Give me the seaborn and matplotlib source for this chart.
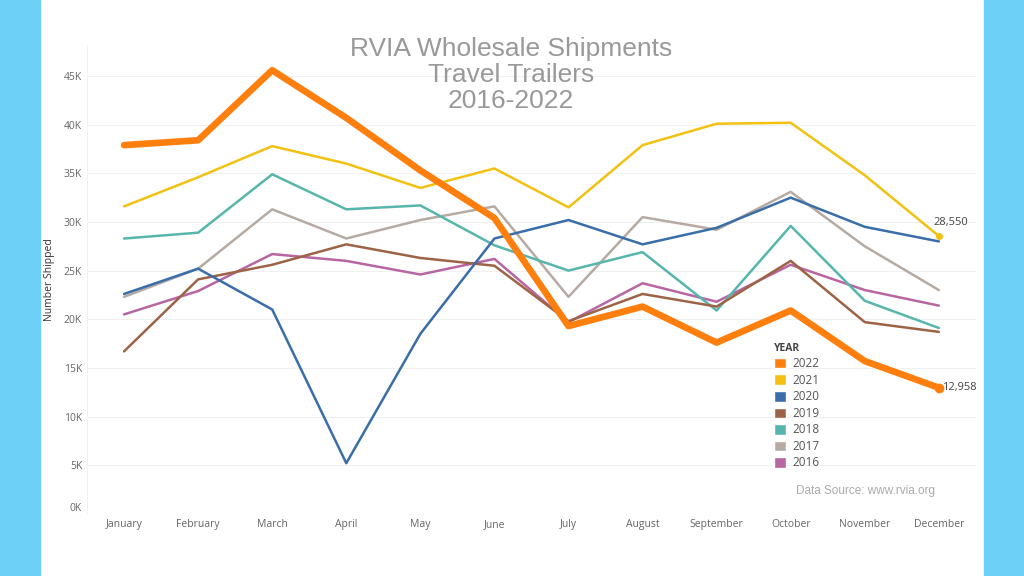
import pandas as pd
import seaborn as sns

import matplotlib
matplotlib.use('Agg')
import matplotlib.pyplot as plt
from matplotlib.patches import Patch, Rectangle


months = ["January", "February", "March", "April", "May", "June", "July",
          "August", "September", "October", "November", "December"]
years = ["2022", "2021", "2020", "2019", "2018", "2017", "2016"]

# monthly shipments
s2022 = [37900, 38400, 45600, 40700, 35300, 30400, 19300, 21300, 17600, 20900, 15700, 12958]
s2021 = [31600, 34600, 37800, 36000, 33500, 35500, 31500, 37900, 40100, 40200, 34800, 28550]
s2020 = [22600, 25200, 21000, 5200, 18500, 28300, 30200, 27700, 29400, 32500, 29500, 28000]
s2019 = [16700, 24100, 25600, 27700, 26300, 25500, 19800, 22600, 21300, 26000, 19700, 18700]
s2018 = [28300, 28900, 34900, 31300, 31700, 27600, 25000, 26900, 20900, 29600, 21900, 19100]
s2017 = [22300, 25200, 31300, 28300, 30200, 31600, 22300, 30500, 29200, 33100, 27500, 23000]
s2016 = [20500, 22900, 26700, 26000, 24600, 26200, 19700, 23700, 21800, 25600, 23000, 21400]
series = [s2022, s2021, s2020, s2019, s2018, s2017, s2016]

colors = {"2022": "#FF7F0E", "2021": "#F2C111", "2020": "#3A6EA8", "2019": "#9D6347",
          "2018": "#57B6AC", "2017": "#B7AAA3", "2016": "#B866A1"}
widths = {y: 1.8 for y in years}
widths["2022"] = 4.8

rows = []
for y, vals in zip(years, series):
    for i, v in enumerate(vals):
        rows.append({"Year": y, "MonthIdx": i, "Shipped": v})
df = pd.DataFrame(rows)

sns.set_style("white")
plt.rcParams['font.family'] = ['Open Sans', 'DejaVu Sans']

fig = plt.figure(figsize=(10.24, 5.76), dpi=100)
fig.patches.append(Rectangle((0, 0), 40 / 1024, 1, transform=fig.transFigure, color="#6DD0F7", zorder=-1))
fig.patches.append(Rectangle((984 / 1024, 0), 40 / 1024, 1, transform=fig.transFigure, color="#6DD0F7", zorder=-1))

ax = fig.add_axes([0.085, 0.108, 0.868, 0.814])
# draw older years first so 2022 sits on top
order = years[::-1]
sns.lineplot(data=df, x="MonthIdx", y="Shipped", hue="Year", hue_order=order,
             palette=colors, size="Year", sizes=widths, size_order=order,
             legend=False, ax=ax, solid_capstyle="round")

ax.set_xlim(-0.5, 11.5)
ax.set_ylim(0, 48200)
ax.set_xticks(range(12))
ax.set_xticklabels(months)
ax.set_yticks(range(0, 46000, 5000))
ax.set_yticklabels([f"{v // 1000}K" for v in range(0, 46000, 5000)])
ax.tick_params(axis="both", length=0, labelsize=7.5, labelcolor="#666666")
ax.tick_params(axis="x", pad=4)
ax.get_yticklabels()[0].set_va("bottom")
ax.grid(axis="y", color="#F0F0F0", linewidth=0.8)
ax.set_xlabel("")
ax.set_ylabel("Number Shipped", fontsize=7.5, color="#333333", labelpad=6)
for sp in ax.spines.values():
    sp.set_visible(False)
ax.axvline(-0.5, color="#F2F2F2", linewidth=0.8)

# end labels
ax.plot(11, s2021[-1], "o", color=colors["2021"], markersize=4)
ax.plot(11, s2022[-1], "o", color=colors["2022"], markersize=6)
ax.annotate(f"{s2021[-1]:,}", (11, s2021[-1]), xytext=(-4, 6), textcoords="offset points",
            fontsize=8, color="#444444", ha="left", va="bottom")
ax.annotate(f"{s2022[-1]:,}", (11, s2022[-1]), xytext=(2, 0), textcoords="offset points",
            fontsize=8, color="#444444", ha="left", va="center")

fig.text(0.499, 0.935, "RVIA Wholesale Shipments\nTravel Trailers\n2016-2022",
         ha="center", va="top", fontsize=19, color="#999999",
         family=["Liberation Sans", "DejaVu Sans"], linespacing=1.1)

handles = [Patch(facecolor=colors[y], label=y) for y in years]
leg = ax.legend(handles=handles, title="YEAR", loc="upper left",
                bbox_to_anchor=(0.768, 0.375), frameon=False, fontsize=8.5,
                handlelength=1.0, handleheight=1.0, handletextpad=0.5,
                labelspacing=0.3, borderaxespad=0)
leg.get_title().set_fontsize(7.5)
leg.get_title().set_fontweight("bold")
leg.get_title().set_color("#444444")
leg._legend_box.align = "left"
for t in leg.get_texts():
    t.set_color("#555555")

fig.text(0.845, 0.147, "Data Source: www.rvia.org", ha="center", va="center",
         fontsize=8.5, color="#AAAAAA", family=["Liberation Sans", "DejaVu Sans"])

fig.savefig("out.png", dpi=100, facecolor="white")
